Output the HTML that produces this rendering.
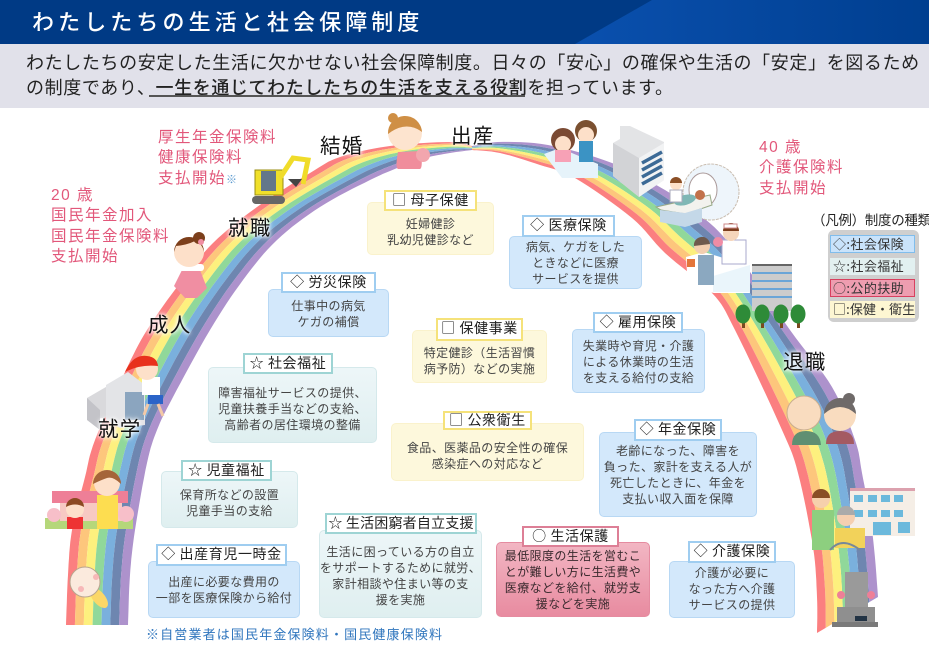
<!DOCTYPE html>
<html lang="ja"><head><meta charset="utf-8"><style>
html,body{margin:0;padding:0;background:#fff}
#p{position:relative;width:929px;height:655px;overflow:hidden;background:#fff;font-family:"Liberation Sans","Noto Sans CJK JP",sans-serif;color:#333}
#p div{position:absolute;white-space:nowrap}
svg{position:absolute;left:0;top:0}
.bd{border-radius:5px;box-sizing:border-box;border:1px solid}
.h{background:#fff;box-sizing:border-box;border:2px solid;color:#222;font-family:"Noto Sans CJK JP",sans-serif;font-size:14px;line-height:17px;letter-spacing:.6px;text-align:center}
.t{text-align:center;font-size:12px;line-height:16px;letter-spacing:.4px;color:#444}
.bl{background:#d3e8fb;border-color:#b8d8f4}.blh{border-color:#9fcdf0}
.gr{background:linear-gradient(#edf6f8,#dfeff0);border-color:#d5e9eb}.grh{border-color:#9ed4d4}
.ye{background:#fdf8dc;border-color:#faf2cc}.yeh{border-color:#f5e27a}
.re{background:linear-gradient(#f2b6c3,#e88ba0);border-color:#e58ba0}.reh{border-color:#dd7f96}
.l{font-size:20.5px;line-height:24px;color:#111;letter-spacing:1.2px;text-shadow:0 0 3px #fff,0 0 5px #fff,0 0 7px #fff}
.pk{font-size:15.5px;line-height:20.4px;letter-spacing:1.5px;color:#e2577a}
.lg{box-sizing:border-box;font-family:"Noto Sans CJK JP",sans-serif;font-size:13px;line-height:16px;color:#333;padding-left:2px;letter-spacing:.4px}
</style></head><body><div id="p">
<div style="left:0;top:0;width:929px;height:44px;background:#003a85"></div>
<svg width="929" height="44" style="top:0"><defs><linearGradient id="hg" x1="0" x2="1"><stop offset="0" stop-color="#0a50ae"/><stop offset="1" stop-color="#003f90"/></linearGradient></defs><polygon points="575,44 652,0 929,0 929,44" fill="url(#hg)"/></svg>
<div style="left:32px;top:9px;font-size:22px;line-height:28px;letter-spacing:4.1px;color:#fff;font-weight:500">わたしたちの生活と社会保障制度</div>
<div style="left:0;top:44px;width:929px;height:64px;background:#e1e1ea"></div>
<div style="left:26px;top:50px;font-size:18px;line-height:26px;letter-spacing:.62px;color:#222">わたしたちの安定した生活に欠かせない社会保障制度。日々の「安心」の確保や生活の「安定」を図るため</div>
<div style="left:26px;top:75px;font-size:18px;line-height:26px;letter-spacing:.62px;color:#222">の制度であり、<span style="font-weight:500">一生を通じてわたしたちの生活を支える役割</span>を担っています。</div>
<div style="left:149px;top:95px;width:376px;height:2px;background:#555"></div>

<svg id="rb" width="929" height="655"></svg>
<svg width="929" height="655">
<!-- baby -->
<ellipse cx="99" cy="598" rx="6" ry="12" fill="#fbd768" transform="rotate(-40 99 598)"/>
<circle cx="85" cy="582" r="15" fill="#fbeadd" stroke="#b9a58e"/>
<circle cx="81" cy="589" r="3" fill="#f7b8b8"/><circle cx="96" cy="577" r="3" fill="#f7b8b8"/>
<!-- nursery -->
<rect x="45" y="518" width="88" height="11" fill="#b5d77a"/>
<rect x="52" y="491" width="76" height="12" fill="#ee7f97"/>
<rect x="60" y="503" width="62" height="18" fill="#f7c9c3"/>
<circle cx="54" cy="515" r="7" fill="#f7bfc9"/><circle cx="126" cy="514" r="8" fill="#f7bfc9"/>
<rect x="97" y="495" width="21" height="34" fill="#fddd50"/>
<circle cx="107" cy="483" r="13" fill="#fde0c9"/><path d="M93 484a14 14 0 0 1 28 0q-8-8-14-6t-14 6z" fill="#a56539"/>
<rect x="67" y="517" width="16" height="12" fill="#e33"/>
<circle cx="75" cy="509" r="9" fill="#fde0c9"/><path d="M66 507a9 9 0 0 1 18 0q-9-5-18 0z" fill="#8c4a22"/>
<!-- school -->
<polygon points="87,398 118,380 118,416 87,420" fill="#d9d9dc"/><polygon points="87,398 87,420 100,430 100,410" fill="#c3c3c8"/>
<polygon points="106,385 128,372 145,385 145,425 120,428 106,420" fill="#e3e4e7"/>
<rect x="125" y="392" width="19" height="28" fill="#8ba5bf"/>
<!-- girl -->
<rect x="142" y="377" width="18" height="18" fill="#fff"/><rect x="148" y="395" width="15" height="9" fill="#2b64c8"/>
<circle cx="147" cy="369" r="11" fill="#fde0c9"/><path d="M125 372q8-18 22-16 10 1 11 10-18-2-33 6z" fill="#e8311c"/>
<path d="M148 404l-4 11M158 404l5 12" stroke="#f3c9a6" stroke-width="3"/>
<!-- kimono -->
<polygon points="182,270 200,270 207,288 197,298 185,298 174,286" fill="#f08ea2"/>
<rect x="178" y="264" width="26" height="7" rx="3" fill="#fff"/>
<circle cx="189" cy="252" r="15" fill="#fde0c9"/><path d="M174 252a15 15 0 0 1 30 0q-2-9-9-11-8 4-19 5z" fill="#7c3f1b"/><circle cx="199" cy="238" r="6" fill="#7c3f1b"/><circle cx="201" cy="242" r="3" fill="#f08ea2"/>
<!-- excavator -->
<rect x="255" y="170" width="28" height="25" fill="#f0e02a" stroke="#998d10"/><rect x="261" y="171" width="15" height="20" fill="#63778a"/>
<rect x="252" y="196" width="33" height="8" rx="4" fill="#666"/>
<path d="M280 178l13-20 15 2-5 24" fill="none" stroke="#f0dc2a" stroke-width="5"/><path d="M288 179h14l-6 8z" fill="#444"/>
<!-- mother -->
<path d="M398 152q-3 16 0 17h22q3-1 1-18z" fill="#f08d9c"/>
<circle cx="405" cy="133" r="17" fill="#fde4cf"/><path d="M388 134a17 17 0 0 1 34-2q-16-12-34 2z" fill="#cf8f45"/><circle cx="393" cy="118" r="5" fill="#cf8f45"/>
<circle cx="423" cy="155" r="7" fill="#f2a6ae"/>
<!-- bed couple -->
<polygon points="544,154 560,148 598,164 598,178 562,178" fill="#e6f3fa"/>
<circle cx="563" cy="140" r="12" fill="#7b4a33"/><circle cx="563" cy="144" r="8" fill="#fde0c9"/><rect x="555" y="150" width="16" height="12" fill="#f7a1b6"/>
<circle cx="586" cy="131" r="11" fill="#7b5030"/><circle cx="586" cy="135" r="8" fill="#fde0c9"/><rect x="579" y="141" width="14" height="21" fill="#3b93c4"/>
<!-- hospital -->
<polygon points="613,143 620,139 620,126 630,126 664,142 664,180 639,197 613,176" fill="#e3e4e6"/>
<polygon points="639,158 664,143 664,180 639,197" fill="#f2f3f4"/>
<polygon points="613,143 639,158 639,197 613,176" fill="#d2d3d6"/>
<path d="M642 163l20-11M642 170l20-11M642 177l20-11M642 184l20-11" stroke="#3c6a96" stroke-width="3.5"/>
<!-- MRI -->
<ellipse cx="711" cy="192" rx="28" ry="28" fill="#eef5fb" stroke="#c9bdb0" stroke-dasharray="3 1"/><ellipse cx="703" cy="190" rx="14" ry="17" fill="#fff" stroke="#a99"/>
<polygon points="656,207 710,195 712,205 686,214 661,210" fill="#f2f2ee" stroke="#9a8"/>
<polygon points="660,210 685,213 702,208 702,222 685,227 660,222" fill="#c4d8e8"/>
<ellipse cx="685" cy="200" rx="11" ry="5" fill="#7fb7b5" transform="rotate(-15 685 200)"/><circle cx="700" cy="195" r="5" fill="#c2714a"/>
<circle cx="676" cy="184" r="6" fill="#fde0c9"/><path d="M670 183a6 6 0 0 1 12 0z" fill="#8b4f26"/><rect x="670" y="190" width="12" height="12" fill="#fff" stroke="#aab"/>
<!-- nurse -->
<polygon points="686,257 704,252 746,265 750,293 714,293 688,288" fill="#fff"/>
<polygon points="713,276 750,265 750,292 713,292" fill="#eaf5fb"/>
<rect x="698" y="255" width="16" height="30" fill="#8ba8c0"/><circle cx="702" cy="246" r="8" fill="#f3cfb0"/><path d="M694 246a8 8 0 0 1 16-2z" fill="#6e5a4d"/>
<rect x="722" y="240" width="24" height="24" fill="#fff" stroke="#aac"/><circle cx="731" cy="233" r="8" fill="#f5d5bb"/><path d="M723 231a8 8 0 0 1 16 0z" fill="#7c3d1d"/><rect x="724" y="224" width="13" height="4" fill="#fff" stroke="#c88"/>
<circle cx="718" cy="242" r="5" fill="#ef8ca5"/>
<rect x="687" y="259" width="8" height="8" fill="#e3753a"/>
<!-- building and trees -->
<rect x="752" y="265" width="40" height="46" fill="#ccc"/><rect x="752" y="264" width="40" height="2" fill="#666"/>
<path d="M752 273h40M752 281h40M752 289h40M752 297h40" stroke="#6aa5d7" stroke-width="2"/>
<g fill="#7a4a20"><rect x="742" y="320" width="3" height="8"/><rect x="761" y="320" width="3" height="8"/><rect x="780" y="320" width="3" height="8"/><rect x="797" y="320" width="3" height="8"/></g>
<g fill="#2e8b38"><ellipse cx="743" cy="314" rx="7.5" ry="9.5"/><ellipse cx="762" cy="314" rx="7.5" ry="9.5"/><ellipse cx="781" cy="314" rx="7.5" ry="9.5"/><ellipse cx="798" cy="314" rx="7.5" ry="9.5"/></g>
<!-- elders -->
<path d="M792 445q0-14 14-14t15 14z" fill="#5f8f72"/><path d="M826 444q0-13 14-13t14 13z" fill="#a45a62"/>
<circle cx="804" cy="413" r="17" fill="#f9dcbf" stroke="#c9ad90"/>
<circle cx="840" cy="415" r="16" fill="#f9dcbf"/><path d="M824 414a16 16 0 0 1 32 0q-16-14-32 0z" fill="#6f6a69"/><circle cx="849" cy="399" r="6" fill="#6f6a69"/>
<!-- care -->
<rect x="850" y="488" width="65" height="48" fill="#f5eee6"/><rect x="850" y="488" width="65" height="3" fill="#dca1ae"/>
<g fill="#6cb9dc"><rect x="854" y="495" width="9" height="7"/><rect x="868" y="495" width="9" height="7"/><rect x="881" y="495" width="9" height="7"/><rect x="894" y="495" width="9" height="7"/><rect x="854" y="510" width="9" height="7"/><rect x="868" y="510" width="9" height="7"/><rect x="881" y="510" width="9" height="7"/><rect x="894" y="510" width="9" height="7"/><rect x="898" y="522" width="12" height="11"/><rect x="873" y="522" width="18" height="13"/></g>
<rect x="812" y="510" width="22" height="40" fill="#8dcf7f"/><circle cx="821" cy="499" r="9" fill="#f6d0ac"/><path d="M812 498a9 9 0 0 1 18 0z" fill="#8a4e25"/>
<rect x="835" y="528" width="30" height="20" fill="#f2d25a"/><circle cx="846" cy="517" r="9" fill="#f5cfb0"/><path d="M837 515a9 9 0 0 1 18 0z" fill="#aaa"/>
<path d="M830 550q12-14 30 0" fill="none" stroke="#789" stroke-width="2"/>
<!-- grave -->
<rect x="845" y="572" width="23" height="36" fill="#9a9a9a"/>
<rect x="837" y="607" width="38" height="15" fill="#8f8f8f"/><rect x="832" y="622" width="46" height="5" fill="#7a7a7a"/>
<circle cx="841" cy="595" r="4" fill="#ee7f97"/><circle cx="871" cy="595" r="4" fill="#ee7f97"/>
<rect x="855" y="616" width="12" height="5" fill="#234"/>
</svg>

<div class="l" style="left:451px;top:125px">出産</div>
<div class="l" style="left:320px;top:135px">結婚</div>
<div class="l" style="left:228px;top:217px">就職</div>
<div class="l" style="left:148px;top:314px">成人</div>
<div class="l" style="left:98px;top:418px">就学</div>
<div class="l" style="left:783px;top:351px">退職</div>

<div class="pk" style="left:158px;top:128px">厚生年金保険料<br>健康保険料<br>支払開始<span style="color:#5b9ad0;font-size:11px">※</span></div>
<div class="pk" style="left:51px;top:186px">20 歳<br>国民年金加入<br>国民年金保険料<br>支払開始</div>
<div class="pk" style="left:759px;top:138px">40 歳<br>介護保険料<br>支払開始</div>

<div style="left:812px;top:212px;font-size:13.5px;line-height:18px;color:#222;letter-spacing:-.3px">（凡例）制度の種類</div>
<div style="left:828px;top:230px;width:91px;height:92px;background:#cfcfcf;border-radius:6px"></div>
<div class="lg" style="left:830px;top:235px;width:85px;height:18px;background:#c9e3fb;border:1px solid #80bdec">◇:社会保険</div>
<div class="lg" style="left:830px;top:258px;width:85px;height:17px;background:#e2f0f0;padding-left:3px">☆:社会福祉</div>
<div class="lg" style="left:830px;top:279px;width:85px;height:18px;background:#ee9db0;border:1px solid #d8405f">○:公的扶助</div>
<div class="lg" style="left:830px;top:301px;width:85px;height:17px;background:#fdf6d2;padding-left:3px;letter-spacing:.1px">□:保健・衛生</div>

<!-- boxes -->
<div class="bd ye" style="left:367px;top:202px;width:127px;height:53px"></div><div class="h yeh" style="left:384px;top:190px;width:93px;height:21px">□ 母子保健</div>
<div class="t" style="left:367px;top:216px;width:127px">妊婦健診<br>乳幼児健診など</div>

<div class="bd bl" style="left:509px;top:236px;width:133px;height:53px"></div><div class="h blh" style="left:522px;top:215px;width:93px;height:22px">◇ 医療保険</div>
<div class="t" style="left:509px;top:239px;width:133px">病気、ケガをした<br>ときなどに医療<br>サービスを提供</div>

<div class="bd bl" style="left:268px;top:289px;width:121px;height:48px"></div><div class="h blh" style="left:281px;top:272px;width:95px;height:21px">◇ 労災保険</div>
<div class="t" style="left:268px;top:298px;width:121px">仕事中の病気<br>ケガの補償</div>

<div class="bd ye" style="left:412px;top:330px;width:135px;height:53px"></div><div class="h yeh" style="left:436px;top:318px;width:87px;height:23px">□ 保健事業</div>
<div class="t" style="left:412px;top:345px;width:135px">特定健診（生活習慣<br>病予防）などの実施</div>

<div class="bd bl" style="left:572px;top:329px;width:133px;height:64px"></div><div class="h blh" style="left:593px;top:312px;width:90px;height:21px">◇ 雇用保険</div>
<div class="t" style="left:572px;top:338px;width:133px">失業時や育児・介護<br>による休業時の生活<br>を支える給付の支給</div>

<div class="bd gr" style="left:208px;top:367px;width:169px;height:76px"></div><div class="h grh" style="left:243px;top:353px;width:90px;height:21px">☆ 社会福祉</div>
<div class="t" style="left:208px;top:385px;width:169px">障害福祉サービスの提供、<br>児童扶養手当などの支給、<br>高齢者の居住環境の整備</div>

<div class="bd ye" style="left:391px;top:423px;width:193px;height:58px"></div><div class="h yeh" style="left:443px;top:411px;width:89px;height:19px;line-height:15px">□ 公衆衛生</div>
<div class="t" style="left:391px;top:440px;width:193px">食品、医薬品の安全性の確保<br>感染症への対応など</div>

<div class="bd bl" style="left:599px;top:432px;width:158px;height:85px"></div><div class="h blh" style="left:634px;top:419px;width:88px;height:22px">◇ 年金保険</div>
<div class="t" style="left:599px;top:443px;width:158px">老齢になった、障害を<br>負った、家計を支える人が<br>死亡したときに、年金を<br>支払い収入面を保障</div>

<div class="bd gr" style="left:161px;top:471px;width:137px;height:57px"></div><div class="h grh" style="left:181px;top:460px;width:91px;height:21px">☆ 児童福祉</div>
<div class="t" style="left:161px;top:487px;width:137px">保育所などの設置<br>児童手当の支給</div>

<div class="bd bl" style="left:148px;top:561px;width:152px;height:57px"></div><div class="h blh" style="left:156px;top:544px;width:131px;height:22px">◇ 出産育児一時金</div>
<div class="t" style="left:148px;top:574px;width:152px">出産に必要な費用の<br>一部を医療保険から給付</div>

<div class="bd gr" style="left:319px;top:530px;width:163px;height:88px"></div><div class="h grh" style="left:325px;top:513px;width:152px;height:21px;letter-spacing:.2px">☆ 生活困窮者自立支援</div>
<div class="t" style="left:319px;top:544px;width:163px">生活に困っている方の自立<br>をサポートするために就労、<br>家計相談や住まい等の支<br>援を実施</div>

<div class="bd re" style="left:496px;top:542px;width:154px;height:75px"></div><div class="h reh" style="left:522px;top:526px;width:97px;height:21px">○ 生活保護</div>
<div class="t" style="left:496px;top:548px;width:154px;color:#3a2a2e">最低限度の生活を営むこ<br>とが難しい方に生活費や<br>医療などを給付、就労支<br>援などを実施</div>

<div class="bd bl" style="left:669px;top:561px;width:126px;height:57px"></div><div class="h blh" style="left:688px;top:541px;width:88px;height:22px">◇ 介護保険</div>
<div class="t" style="left:669px;top:565px;width:126px">介護が必要に<br>なった方へ介護<br>サービスの提供</div>

<div style="left:146px;top:626px;font-size:13px;line-height:18px;letter-spacing:1.15px;color:#2f75bd">※自営業者は国民年金保険料・国民健康保険料</div>
</div>
<script>
var C=['#fb7f80','#fdc67c','#fdf07e','#90d89a','#7ab0dd','#6e86b0','#ad92cc'];
function cr(P){var o=[],n=P.length;for(var i=0;i<n-1;i++){var a=P[Math.max(i-1,0)],b=P[i],c=P[i+1],d=P[Math.min(i+2,n-1)];for(var k=0;k<8;k++){var t=k/8,t2=t*t,t3=t2*t,f=function(j){return .5*(2*b[j]+(c[j]-a[j])*t+(2*a[j]-5*b[j]+4*c[j]-d[j])*t2+(3*b[j]-a[j]-3*c[j]+d[j])*t3)};o.push([f(0),f(1)])}}o.push(P[n-1]);return o}
function ribbon(out,inn,cols){var A=cr(out),B=cr(inn),m=Math.min(A.length,B.length),s='';for(var i=0;i<7;i++){var u=[],v=[];for(var j=0;j<m;j++){var p=i/7,q=(i+1)/7;u.push((A[j][0]+(B[j][0]-A[j][0])*p).toFixed(1)+','+(A[j][1]+(B[j][1]-A[j][1])*p).toFixed(1));v.unshift((A[j][0]+(B[j][0]-A[j][0])*q).toFixed(1)+','+(A[j][1]+(B[j][1]-A[j][1])*q).toFixed(1))}s+='<polygon fill="'+cols[i]+'" points="'+u.concat(v).join(' ')+'"/>'}return s}
var L1=[[66,625],[68,575],[72,530],[85,477],[95,440],[125,372],[147,330],[180,283],[213,243],[257,207],[310,173],[340,157],[390,146],[450,142],[472,146]];
var L2=[[128,625],[130,575],[135,530],[147,463],[157,430],[173,397],[210,330],[243,280],[277,240],[320,207],[370,180],[400,167],[425,158],[450,153],[472,150]];
var R1=[[472,146],[498,142],[548,145],[612,163],[665,190],[700,215],[732,247],[790,330],[832,387],[855,440],[862,473],[872,530],[878,597],[879,633]];
var R2=[[472,150],[500,153],[540,165],[575,178],[632,218],[665,253],[712,293],[735,330],[782,430],[798,473],[813,547],[817,597],[817,633]];
document.getElementById('rb').innerHTML=ribbon(L1,L2,C)+ribbon(R1,R2,C.slice().reverse());
</script>
</body></html>
